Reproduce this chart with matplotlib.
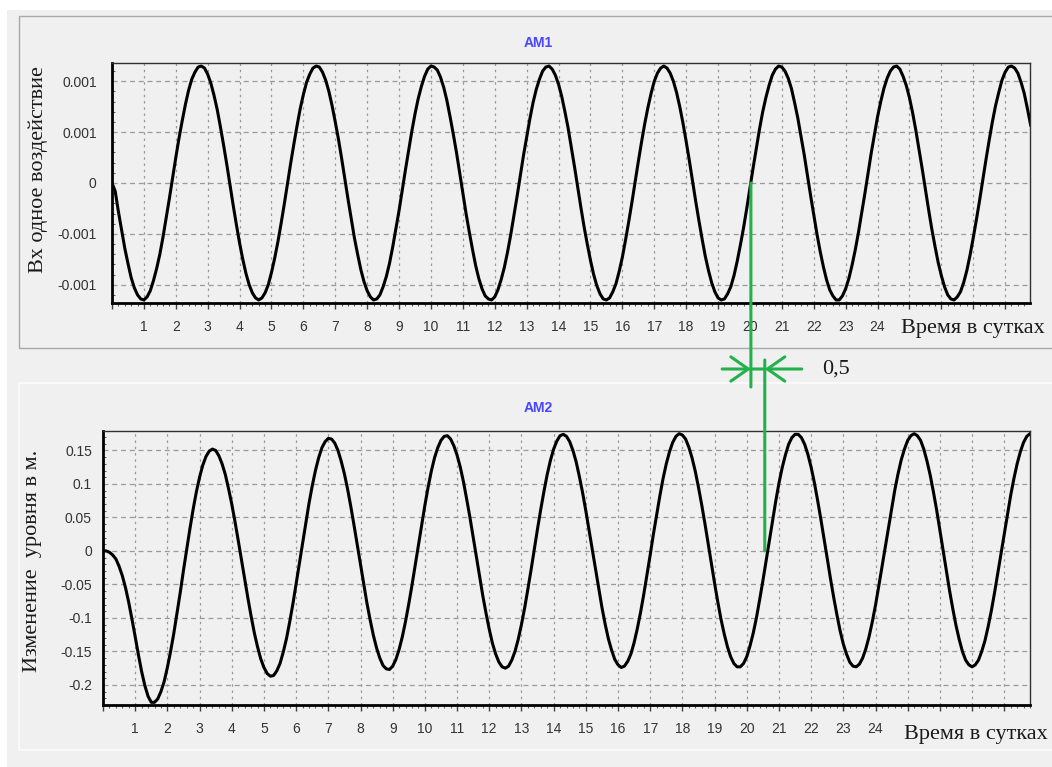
import numpy as np
import matplotlib
matplotlib.use('Agg')
import matplotlib.pyplot as plt
import matplotlib.transforms as mtransforms
from matplotlib.patches import Rectangle, ConnectionPatch
from matplotlib.ticker import FixedLocator, MultipleLocator

# readings every 0.1 day (сутки)
step = 0.1

# AM1, input, in units of 1e-5
am1_e5 = [0,-8,-28,-46,-64,-79,-93,-103,-110,-114,-115,-112,-106,-96,-84,-70,-53,-34,-15,5,25,44,61,77,91,102,109,114,115,113,107,98,86,72,55,37,18,-2,-22,-41,-59,-75,-89,-100,-108,-113,-115,-113,-108,-100,-88,-74,-58,-40,-21,-1,19,38,56,73,87,99,107,113,115,114,109,101,90,76,60,43,24,4,-16,-35,-54,-70,-85,-97,-106,-112,-115,-114,-110,-102,-92,-79,-63,-45,-27,-7,13,32,51,68,83,95,105,112,115,114,111,104,94,81,65,48,30,10,-10,-30,-48,-65,-81,-94,-104,-111,-114,-115,-112,-105,-95,-83,-68,-51,-32,-13,7,27,45,63,79,92,102,110,114,115,112,106,97,85,70,54,35,16,-4,-24,-43,-60,-76,-90,-101,-109,-114,-115,-113,-107,-99,-87,-73,-56,-38,-19,1,21,40,58,74,88,100,108,113,115,113,108,100,89,75,59,41,22,2,-18,-37,-55,-72,-86,-98,-107,-113,-115,-114,-109,-102,-91,-77,-61,-44,-25,-5,15,34,53,70,84,96,106,112,115,114,110,103,93,79,64,46,28,8,-12,-31,-50,-67,-82,-95,-105,-111,-115,-115,-111,-104,-94,-81,-66,-49,-30,-11,9,29,47,65,80,93,103,110,114,115,112,105,96,84,69,52,33,14,-6,-26,-45,-62,-78,-91,-102,-110,-114,-115,-112,-107,-98,-86,-71,-54,-36,-17,3,23,42,60,76,89,101,109,114,115,113,108,99,88,73,57]

# AM2, level change, mm
am2_mm = [0,0,-2,-6,-12,-23,-37,-55,-77,-102,-128,-155,-180,-201,-217,-226,-226,-221,-210,-195,-174,-150,-123,-93,-62,-29,2,33,62,88,110,128,141,149,152,150,142,130,114,93,70,44,16,-13,-42,-70,-97,-122,-143,-161,-174,-183,-187,-186,-179,-168,-151,-131,-106,-79,-49,-19,12,42,71,97,120,139,154,163,168,167,161,150,134,115,92,66,38,9,-21,-50,-78,-103,-126,-145,-160,-171,-176,-177,-172,-162,-147,-128,-105,-79,-51,-21,10,40,68,95,119,139,154,165,171,172,167,157,143,125,103,77,50,21,-9,-38,-67,-93,-117,-138,-154,-166,-173,-175,-172,-163,-150,-132,-110,-85,-57,-28,3,33,62,89,114,135,152,164,172,174,171,163,150,133,111,87,60,31,1,-28,-57,-84,-109,-131,-148,-162,-170,-174,-172,-165,-154,-137,-116,-92,-65,-36,-6,25,54,82,108,130,148,162,171,175,173,167,155,139,119,95,69,41,11,-19,-48,-76,-102,-124,-143,-158,-168,-173,-173,-168,-158,-142,-123,-100,-73,-45,-15,16,46,74,101,124,143,159,169,174,174,169,159,144,125,102,76,48,19,-11,-41,-69,-95,-119,-139,-154,-166,-172,-173,-169,-160,-146,-128,-106,-81,-53,-24,5,35,64,91,115,136,152,165,172,175,172,165,152,134,113,88,61,31,1,-29,-59,-86,-111,-132,-150,-163,-170,-173,-170,-163,-150,-134,-113,-89,-62,-33,-3,26,55,83,108,130,148,162,171,175]

day_ticks = list(range(0, 29))
day_labels = [''] + [str(i) for i in range(1, 25)] + [''] * 4

am1_ticks = [-0.001, -0.0005, 0, 0.0005, 0.001]
am1_labels = ['-0.001', '-0.001', '0', '0.001', '0.001']
am2_ticks = [-0.2, -0.15, -0.1, -0.05, 0, 0.05, 0.1, 0.15]
am2_labels = ['-0.2', '-0.15', '-0.1', '-0.05', '0', '0.05', '0.1', '0.15']

# zero crossings marked in green (days), lag 0,5
cross_top = 20.03
cross_bot = 20.56
lag_label = '0,5'

days = np.arange(len(am1_e5)) * step
am1 = np.array(am1_e5) * 1e-5
am2 = np.array(am2_mm) * 1e-3

green = '#22b14c'
W, H = 1052, 767
fig = plt.figure(figsize=(W / 100, H / 100), dpi=100, facecolor='#f0f0f0')

def px(x0, y0, x1, y1):
    return [x0 / W, 1 - y1 / H, (x1 - x0) / W, (y1 - y0) / H]

# window frames behind the plots
fig.patches.append(Rectangle((0, 1 - 10 / H), 1, 10 / H, transform=fig.transFigure, fc='white', ec='none', zorder=-5))
fig.patches.append(Rectangle((0, 0), 7 / W, 1, transform=fig.transFigure, fc='white', ec='none', zorder=-5))
fig.patches.append(Rectangle((19 / W, 1 - 348 / H), 1, 332 / H, transform=fig.transFigure, fc='#f0f0f0', ec='#a8a8a8', lw=1, zorder=-5))
fig.patches.append(Rectangle((19 / W, 1 - 750 / H), 1, 367 / H, transform=fig.transFigure, fc='#f0f0f0', ec='#fbfbfb', lw=1.2, zorder=-5))

ax1 = fig.add_axes(px(112, 63, 1030, 303))
ax2 = fig.add_axes(px(103, 431, 1030, 705))

def style(ax, ypad):
    ax.set_facecolor('none')
    for s in ['left', 'bottom']:
        ax.spines[s].set_linewidth(2.0)
        ax.spines[s].set_color('black')
    for s in ['top', 'right']:
        ax.spines[s].set_linewidth(1.0)
        ax.spines[s].set_color('#303030')
    ax.xaxis.set_major_locator(FixedLocator(day_ticks))
    ax.set_xticklabels(day_labels)
    ax.xaxis.set_minor_locator(MultipleLocator(0.2))
    ax.tick_params(axis='x', which='major', length=4, width=1, color='#404040', pad=8,
                   labelsize=10, labelcolor='#333333')
    ax.tick_params(axis='x', which='minor', length=2, width=0.8, color='#606060')
    ax.tick_params(axis='y', which='major', length=0, pad=ypad, labelsize=10, labelcolor='#333333')
    ax.tick_params(axis='y', which='minor', length=2, width=0.8, direction='in', color='#606060')
    ax.grid(axis='x', which='major', color='#9a9a9a', lw=0.9, ls=(0, (2, 3)))
    ax.grid(axis='y', which='major', color='#9a9a9a', lw=0.9, ls=(0, (4, 3)))
    ax.set_axisbelow(True)
    for lab in ax.get_xticklabels() + ax.get_yticklabels():
        lab.set_family('Liberation Sans')

ax1.plot(days, am1, color='black', lw=2.2)
ax1.set_xlim(0, 28.78)
ax1.set_ylim(-0.00118, 0.00118)
ax1.set_yticks(am1_ticks)
ax1.set_yticklabels(am1_labels)
ax1.yaxis.set_minor_locator(MultipleLocator(0.0001))
style(ax1, 11)

ax2.plot(days, am2, color='black', lw=2.2)
ax2.set_xlim(0, 28.8)
ax2.set_ylim(-0.230, 0.179)
ax2.set_yticks(am2_ticks)
ax2.set_yticklabels(am2_labels)
ax2.yaxis.set_minor_locator(MultipleLocator(0.01))
style(ax2, 8)

serif = 'Liberation Serif'
fig.text(538 / W, 1 - 43 / H, 'AM1', color='#4646ff', fontsize=10, fontweight='bold',
         family='Liberation Sans', ha='center', va='center')
fig.text(538 / W, 1 - 408 / H, 'AM2', color='#4646ff', fontsize=10, fontweight='bold',
         family='Liberation Sans', ha='center', va='center')
fig.text(38 / W, 1 - 170 / H, 'Вх одное воздействие', rotation=90, family=serif,
         fontsize=16, ha='center', va='center', color='#1a1a1a')
fig.text(33 / W, 1 - 561 / H, 'Изменение  уровня в м.', rotation=90, family=serif,
         fontsize=16, ha='center', va='center', color='#1a1a1a')
fig.text(1045 / W, 1 - 328 / H, 'Время в сутках', family=serif, fontsize=16,
         ha='right', va='center', color='#1a1a1a')
fig.text(1048 / W, 1 - 735 / H, 'Время в сутках', family=serif, fontsize=16,
         ha='right', va='center', color='#1a1a1a')

# green lag marker between the two zero crossings
y_arrow = 1 - 369 / H
b1 = mtransforms.blended_transform_factory(ax1.transData, fig.transFigure)
b2 = mtransforms.blended_transform_factory(ax2.transData, fig.transFigure)
fig.add_artist(ConnectionPatch((cross_top, 0), (cross_top, 1 - 387 / H), coordsA=ax1.transData,
                               coordsB=b1, color=green, lw=2.2))
fig.add_artist(ConnectionPatch((cross_bot, 0), (cross_bot, 1 - 360 / H), coordsA=ax2.transData,
                               coordsB=b2, color=green, lw=2.2))
fig.add_artist(ConnectionPatch((cross_top, y_arrow), (cross_bot, y_arrow), coordsA=b1,
                               coordsB=b2, color=green, lw=2.2))
ax1.annotate('', xy=(cross_top, y_arrow), xycoords=b1, xytext=(cross_top - 0.9, y_arrow),
             textcoords=b1, annotation_clip=False,
             arrowprops=dict(arrowstyle='->,head_length=0.5,head_width=0.35', color=green,
                             lw=2.2, mutation_scale=25, shrinkA=0, shrinkB=0))
ax2.annotate('', xy=(cross_bot, y_arrow), xycoords=b2, xytext=(cross_bot + 1.15, y_arrow),
             textcoords=b2, annotation_clip=False,
             arrowprops=dict(arrowstyle='->,head_length=0.5,head_width=0.35', color=green,
                             lw=2.2, mutation_scale=25, shrinkA=0, shrinkB=0))
fig.text(822 / W, y_arrow, lag_label, family=serif, fontsize=16, ha='left', va='center', color='#1a1a1a')

fig.savefig('out.png', dpi=100, facecolor=fig.get_facecolor())
